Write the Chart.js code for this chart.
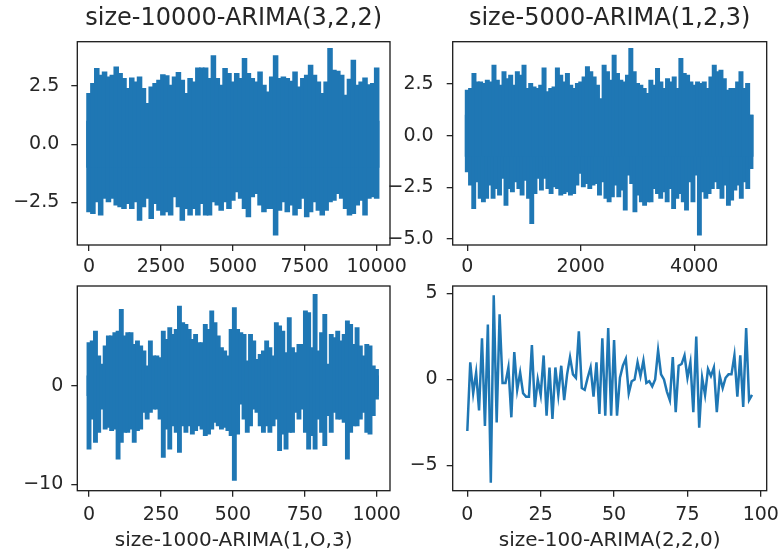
<!DOCTYPE html>
<html>
<head>
<meta charset="utf-8">
<script src="https://cdn.jsdelivr.net/npm/chart.js@4.4.1/dist/chart.umd.min.js"></script>
<style>
  html, body { margin: 0; padding: 0; background: #fff; }
  #fig { position: relative; width: 781px; height: 557px; overflow: hidden; background: #fff; }
  canvas { position: absolute; }
</style>
</head>
<body>
<div id="fig">
  <canvas id="c10000"></canvas>
  <canvas id="c5000"></canvas>
  <canvas id="c1000"></canvas>
  <canvas id="c100"></canvas>
</div>
<script>
// --- values ---
// dense series (10000 / 5000 / 1000 samples) are kept as their upper and lower envelopes
const up10000 = [2.19,2.62,3.26,2.98,3.12,2.90,2.98,3.33,3.05,2.83,
  2.40,2.86,2.69,2.90,2.40,1.76,2.47,2.62,2.76,3.00,
  2.95,2.54,2.90,3.09,2.76,2.19,2.83,2.69,3.29,3.29,
  3.29,2.83,3.81,2.83,2.54,3.26,3.05,2.69,3.05,2.83,
  3.69,3.05,2.83,2.69,3.12,2.54,2.26,2.90,3.81,2.83,
  2.90,2.83,2.72,3.12,2.47,2.83,2.98,3.41,2.98,2.69,
  2.19,2.69,4.12,3.19,3.15,2.98,2.11,2.80,3.62,2.54,
  2.69,2.86,2.57,2.62,3.29];
const lo10000 = [-2.91,-2.98,-2.48,-3.05,-2.33,-2.48,-2.33,-2.62,-2.69,-2.77,
  -2.55,-2.77,-2.48,-3.27,-2.69,-2.33,-3.20,-2.55,-2.84,-3.05,
  -2.91,-3.05,-2.26,-2.69,-3.27,-2.77,-3.05,-2.77,-3.05,-2.55,
  -3.05,-3.05,-2.48,-2.62,-2.84,-2.48,-2.77,-2.41,-2.05,-2.33,
  -2.77,-3.12,-2.26,-2.12,-2.62,-2.91,-2.77,-2.77,-3.91,-2.84,
  -2.48,-2.91,-2.62,-3.05,-2.77,-2.33,-3.12,-2.91,-2.48,-2.84,
  -3.05,-2.84,-2.48,-2.41,-2.12,-2.33,-2.77,-3.05,-2.98,-2.62,
  -2.41,-3.05,-2.33,-2.26,-2.33];

const up5000 = [2.21,2.29,3.02,2.61,2.61,2.53,2.69,2.61,3.42,2.69,
  2.45,3.10,2.77,2.93,2.45,3.10,2.93,3.42,2.29,2.53,
  2.37,2.29,2.45,3.29,2.13,2.29,2.37,3.29,2.93,2.61,
  3.02,2.45,2.29,2.53,2.61,2.85,3.34,3.10,2.85,2.45,
  1.80,3.42,3.10,2.69,3.90,3.02,2.69,2.61,2.93,4.23,
  3.10,2.53,2.45,2.29,2.05,2.69,2.45,3.26,2.61,2.29,
  2.77,2.61,2.85,2.29,3.74,3.02,2.93,2.61,2.45,2.61,
  2.53,2.61,2.29,2.85,3.42,3.10,3.18,2.77,2.21,2.29,
  2.29,2.61,3.10,2.29,2.53,1.00];
const lo5000 = [-1.75,-2.40,-3.53,-2.24,-3.04,-3.21,-3.04,-2.40,-3.04,-2.56,
  -2.88,-2.07,-3.37,-2.56,-2.72,-2.24,-2.56,-2.88,-2.16,-3.04,
  -4.26,-2.80,-2.07,-2.64,-2.07,-2.56,-2.80,-2.48,-2.56,-2.88,
  -2.80,-2.72,-2.88,-2.80,-2.40,-1.83,-2.48,-2.32,-2.56,-2.40,
  -2.32,-2.88,-2.24,-3.04,-3.21,-2.96,-2.40,-2.96,-2.64,-3.61,
  -1.91,-2.32,-3.69,-2.88,-3.21,-3.37,-3.21,-3.21,-2.56,-2.80,
  -3.04,-2.72,-3.21,-2.56,-3.53,-3.04,-2.80,-3.21,-3.61,-2.24,
  -3.21,-1.91,-4.82,-2.72,-3.04,-2.80,-2.56,-2.24,-2.56,-3.04,
  -2.40,-3.37,-3.12,-2.64,-2.40,-3.04,-2.24,-2.56,-1.59];

const up1000 = [4.37,4.54,5.55,3.02,2.18,4.03,5.05,5.05,5.38,5.55,
  7.75,5.05,5.38,5.38,4.20,4.54,4.03,3.53,2.01,4.54,
  3.02,3.02,2.85,5.55,4.71,5.89,5.22,5.72,8.08,6.40,
  6.23,5.72,4.71,5.22,4.37,4.37,6.23,5.72,7.58,6.40,
  5.05,3.87,3.53,3.02,5.72,7.92,5.72,5.38,5.22,2.52,
  5.22,4.54,2.68,3.19,3.53,4.54,3.87,3.02,6.40,6.06,
  5.55,3.36,6.90,3.87,3.36,4.20,4.20,7.58,7.41,3.87,
  9.27,3.53,5.38,7.24,2.18,5.22,4.88,5.55,4.54,5.22,
  6.57,6.23,4.20,5.89,4.03,3.02,4.20,4.03,2.01,1.67];
const lo1000 = [-6.43,-3.39,-5.76,-4.74,-2.38,-4.40,-4.24,-4.57,-4.40,-7.44,
  -5.76,-4.74,-4.74,-4.40,-5.76,-4.57,-4.40,-2.72,-3.39,-2.72,
  -2.38,-2.38,-3.39,-7.27,-4.40,-6.43,-4.07,-4.74,-6.77,-4.07,
  -4.74,-4.07,-4.91,-4.57,-4.07,-4.40,-5.08,-4.91,-4.40,-3.73,
  -4.07,-4.40,-4.24,-4.57,-5.08,-9.60,-4.91,-1.87,-3.39,-4.74,
  -4.07,-2.38,-2.72,-4.07,-4.74,-4.07,-4.74,-4.07,-3.39,-6.60,
  -4.91,-6.43,-4.74,-4.74,-2.72,-3.39,-2.38,-4.74,-6.43,-5.08,
  -6.43,-3.39,-4.74,-6.09,-3.05,-4.74,-2.72,-3.39,-3.39,-3.73,
  -7.44,-4.74,-4.07,-4.07,-3.39,-2.72,-4.74,-4.91,-3.05,-1.37];

const series100 = [-3.0,1.0,-0.8,0.4,-1.8,2.4,-2.7,3.2,-6.0,4.9,
  -2.5,3.8,-0.2,-0.2,0.7,-2.2,1.6,-0.6,0.4,-0.8,
  -1.0,-1.0,2.0,-1.6,0.0,-0.9,1.4,-2.1,0.7,-2.3,
  0.7,-0.9,0.8,-1.2,0.3,1.3,0.3,0.1,2.8,-0.5,
  -0.6,0.1,0.7,-1.0,1.0,-2.0,2.4,-2.1,3.0,-2.1,
  2.3,-2.1,0.1,0.8,1.2,-0.8,-0.1,0.0,1.0,0.2,
  1.1,-0.2,-0.1,-0.4,0.0,1.7,0.3,0.0,-0.7,-1.2,
  1.3,-1.9,0.8,0.9,1.4,0.1,1.0,-1.9,2.5,-2.8,
  0.1,-0.9,0.6,0.2,0.7,-1.9,0.2,-0.5,0.1,0.3,
  0.3,1.4,-1.0,1.4,-1.6,3.0,-1.2,-0.9];

// tick values per subplot
const xt10000 = [0, 2500, 5000, 7500, 10000];
const yt10000 = [-2.5, 0, 2.5];
const xt5000 = [0, 2000, 4000];
const yt5000 = [-5, -2.5, 0, 2.5];
const xt1000 = [0, 250, 500, 750, 1000];
const yt1000 = [-10, 0];
const xt100 = [0, 25, 50, 75, 100];
const yt100 = [-5, 0, 5];

const BLUE = '#1f77b4';
const INK = '#262626';
Chart.defaults.font.family = "'DejaVu Sans', sans-serif";

function fmt(d) {
  return v => (v < 0 ? '\u2212' : '') + Math.abs(v).toFixed(d);
}

function spread(vals, span) {
  const n = vals.length;
  return vals.map((v, i) => ({ x: i * span / (n - 1), y: v }));
}

// the dense noise is drawn as one solid band: upper edge bars reach below zero,
// lower edge bars reach above zero
function band(up, lo, span) {
  const bars = (vals, toward) => ({
    type: 'bar',
    step: span / (vals.length - 1),
    data: spread(vals, span).map(p => ({ x: p.x, y: [toward, p.y] })),
    backgroundColor: BLUE, borderWidth: 0, grouped: false
  });
  return [bars(up, -1), bars(lo, 1)];
}

// four spines round the axes
const frame = {
  id: 'frame',
  afterDraw(chart) {
    const { ctx, chartArea: a } = chart;
    ctx.save();
    ctx.strokeStyle = '#1a1a1a';
    ctx.lineWidth = 1.3;
    ctx.strokeRect(a.left, a.top, a.right - a.left, a.bottom - a.top);
    ctx.restore();
  }
};

function subplot(id, box, area, o) {
  const cv = document.getElementById(id);
  cv.width = box.w; cv.height = box.h;
  cv.style.left = box.x + 'px'; cv.style.top = box.y + 'px';
  const topH = area.t - box.y;
  // bar width = one envelope step on screen, plus 1px so neighbours overlap
  const pxPerX = (area.r - area.l) / (o.xr[1] - o.xr[0]);
  o.datasets.forEach(ds => { if (ds.type === 'bar') ds.barThickness = ds.step * pxPerX + 1; });

  const tick = (vals, d, pad) => ({
    offset: false,
    afterBuildTicks: s => { s.ticks = vals.map(v => ({ value: v })); },
    ticks: { callback: fmt(d), color: INK, font: { size: 19 }, padding: pad, autoSkip: false, maxRotation: 0 },
    grid: { offset: false, drawOnChartArea: false, drawTicks: true, tickLength: 6, color: INK, lineWidth: 1.3 },
    border: { display: false }
  });
  const xs = Object.assign({ type: 'linear', min: o.xr[0], max: o.xr[1],
    afterFit: s => { s.height = box.y + box.h - area.b; s.paddingLeft = 0; s.paddingRight = 0; } },
    tick(o.xt, 0, o.xpad));
  if (o.xlabel) {
    xs.title = { display: true, text: o.xlabel, color: INK, font: { size: 20 }, padding: { top: 0, bottom: 4 } };
  }
  const ys = Object.assign({ type: 'linear', min: o.yr[0], max: o.yr[1],
    afterFit: s => { s.width = area.l - box.x; s.paddingTop = 0; s.paddingBottom = 0; } },
    tick(o.yt, o.yd, o.ypad));

  new Chart(cv, {
    type: 'line',
    data: { datasets: o.datasets },
    options: {
      responsive: false, animation: false, events: [],
      layout: { padding: { left: 0, right: box.x + box.w - area.r, top: o.title ? 0 : topH, bottom: 0 } },
      plugins: {
        legend: { display: false },
        tooltip: { enabled: false },
        title: o.title ? {
          display: true, text: o.title, fullSize: false, color: INK,
          font: { size: 24, weight: 'normal' },
          padding: { top: topH - 28.8 - 9, bottom: 9 }
        } : { display: false }
      },
      scales: { x: xs, y: ys }
    },
    plugins: [frame]
  });
}

subplot('c10000', { x: 0, y: 0, w: 410, h: 280 }, { l: 77.3, t: 41.7, r: 390, b: 245 }, {
  title: 'size-10000-ARIMA(3,2,2)',
  datasets: band(up10000, lo10000, 9999),
  xr: [-407, 10462], yr: [-4.33, 4.41], xt: xt10000, yt: yt10000, yd: 1, xpad: 5, ypad: 12
});
subplot('c5000', { x: 380, y: 0, w: 401, h: 280 }, { l: 452.7, t: 41.7, r: 766.7, b: 245 }, {
  title: 'size-5000-ARIMA(1,2,3)',
  datasets: band(up5000, lo5000, 4999),
  xr: [-257, 5276], yr: [-5.29, 4.55], xt: xt5000, yt: yt5000, yd: 1, xpad: 5, ypad: 13
});
subplot('c1000', { x: 0, y: 280, w: 410, h: 277 }, { l: 77.3, t: 286, r: 390, b: 490.7 }, {
  xlabel: 'size-1000-ARIMA(1,O,3)',
  datasets: band(up1000, lo1000, 999),
  xr: [-40.7, 1046], yr: [-10.65, 10.11], xt: xt1000, yt: yt1000, yd: 0, xpad: 7, ypad: 8
});
subplot('c100', { x: 380, y: 280, w: 401, h: 277 }, { l: 452.7, t: 286, r: 766.7, b: 490.7 }, {
  xlabel: 'size-100-ARIMA(2,2,0)',
  datasets: [{ data: series100.map((v, i) => ({ x: i, y: v })), borderColor: BLUE,
    borderWidth: 2.5, pointRadius: 0, fill: false, tension: 0 }],
  xr: [-4.98, 102.0], yr: [-6.47, 5.44], xt: xt100, yt: yt100, yd: 0, xpad: 7, ypad: 9
});
</script>
</body>
</html>
